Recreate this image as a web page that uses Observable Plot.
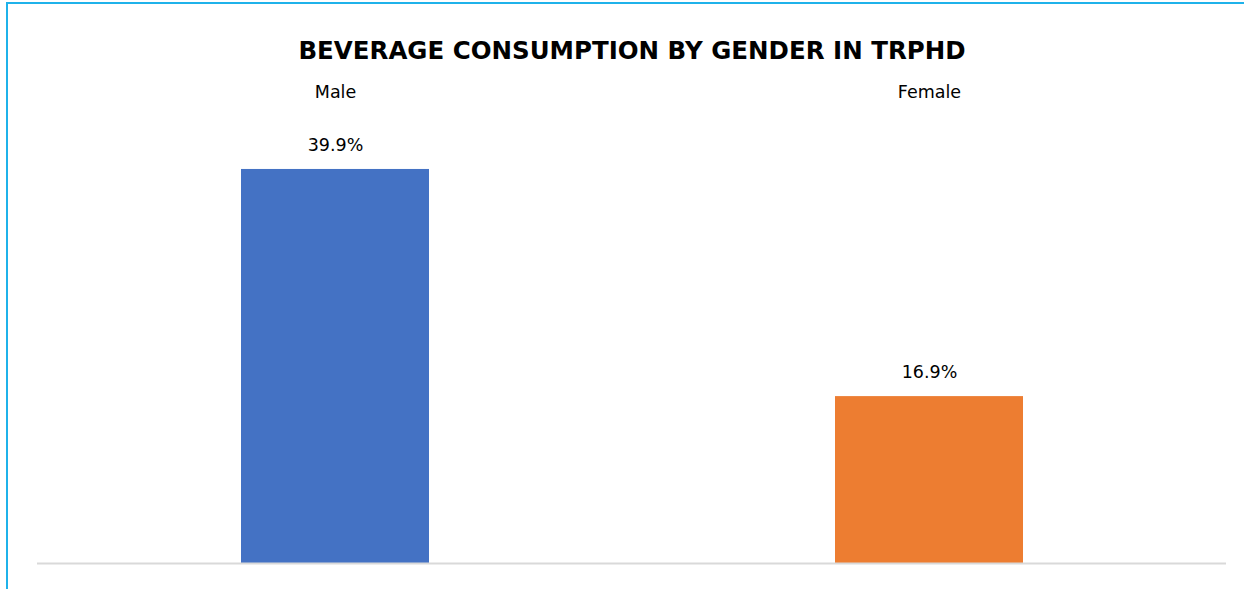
<!DOCTYPE html>
<html>
<head>
<meta charset="utf-8">
<script src="https://cdn.jsdelivr.net/npm/d3@7"></script>
<script src="https://cdn.jsdelivr.net/npm/@observablehq/plot@0.6"></script>
<style>
  html, body { margin: 0; padding: 0; background: #fff; }
  #wrap { position: relative; width: 1244px; height: 589px; overflow: hidden; }
  #frame { position: absolute; left: 6px; top: 2px; width: 1250px; height: 600px;
           border-left: 2px solid #1fb2ea; border-top: 2px solid #1fb2ea; box-sizing: border-box; }
  #chart { position: absolute; left: 0; top: 0; }
</style>
</head>
<body>
<div id="wrap"><div id="frame"></div><div id="chart"></div></div>
<script>
const title = "BEVERAGE CONSUMPTION BY GENDER IN TRPHD";
const genders = ["Male", "Female"];
const values = [39.9, 16.9];
const colors = ["#4472c4", "#ed7d31"];

const data = genders.map((g, i) => ({gender: g, value: values[i]}));
const font = "'DejaVu Sans', sans-serif";

const chart = Plot.plot({
  width: 1244,
  height: 589,
  marginLeft: 37,
  marginRight: 18,
  marginBottom: 26,
  marginTop: 118.6,
  style: {fontFamily: font, background: "transparent", color: "#000"},
  x: {domain: genders, padding: 0, axis: null},
  y: {domain: [0, 45], axis: null},
  color: {domain: genders, range: colors},
  marks: [
    Plot.barY(data, {x: "gender", y: "value", fill: "gender", insetLeft: 203, insetRight: 203}),
    Plot.ruleY([0], {stroke: "#d9d9d9", strokeWidth: 2}),
    Plot.text(data, {x: "gender", y: "value", text: d => d.value.toFixed(1) + "%", dy: -24, fontSize: 17.5, fill: "#000"}),
    Plot.axisX({anchor: "top", tickSize: 0, tickPadding: 21, fontSize: 17.5, fill: "#000", label: null}),
    Plot.text([title], {frameAnchor: "top", dy: -78, fontSize: 24.5, fontWeight: "bold", fill: "#000"})
  ]
});
document.getElementById("chart").appendChild(chart);
</script>
</body>
</html>
